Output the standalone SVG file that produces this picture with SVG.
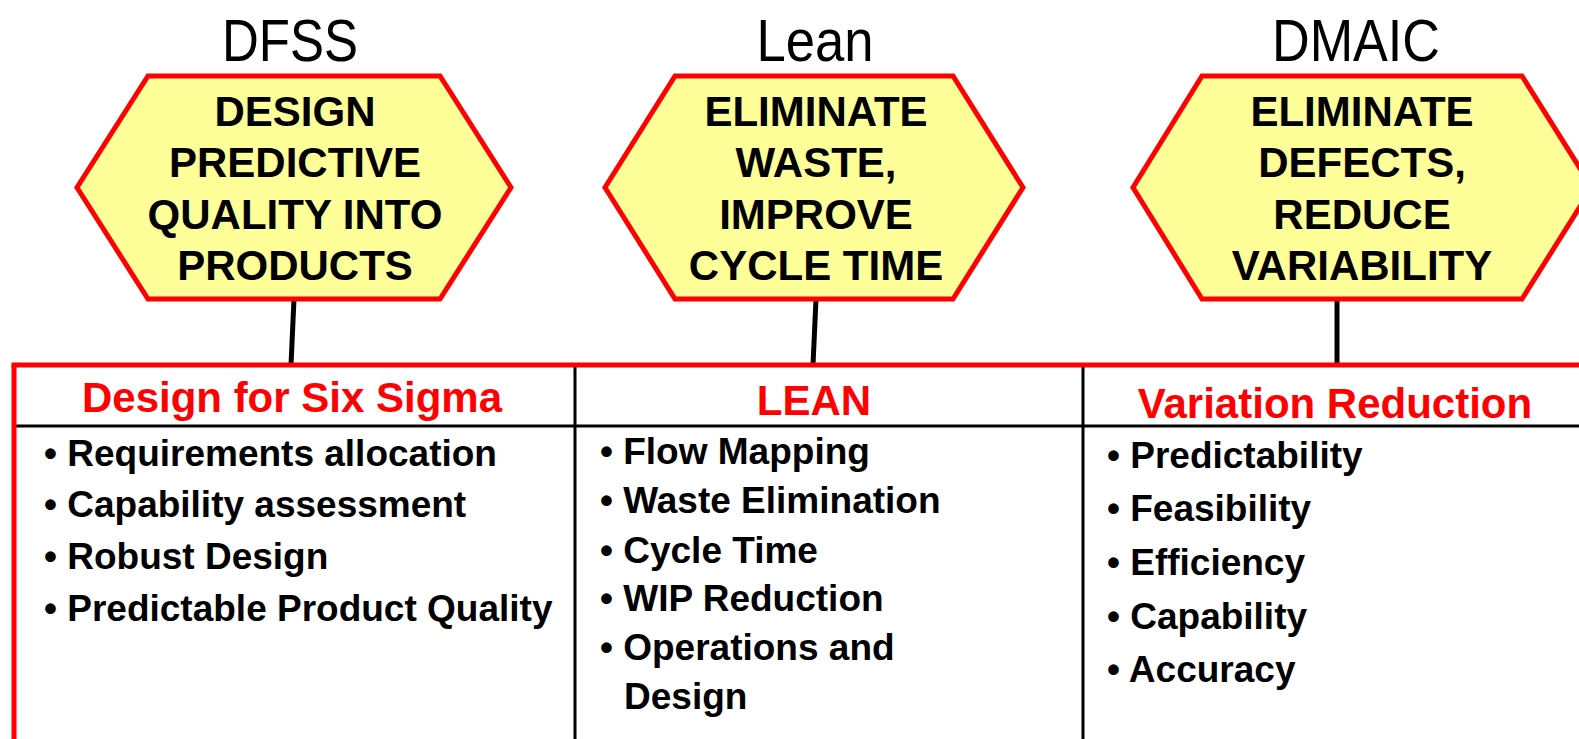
<svg xmlns="http://www.w3.org/2000/svg" width="1579" height="739" viewBox="0 0 1579 739">
<style>
.title{font-family:"Liberation Sans",Arial,sans-serif;font-size:59px;fill:#000;text-anchor:middle}
.hex{fill:#FFFF99;stroke:#FF0000;stroke-width:5;stroke-linejoin:miter}
.hext{font-family:"Liberation Sans",Arial,sans-serif;font-size:42px;font-weight:bold;fill:#000;text-anchor:middle}
.head{font-family:"Liberation Sans",Arial,sans-serif;font-size:42px;font-weight:bold;fill:#FF0000;text-anchor:middle}
.item{font-family:"Liberation Sans",Arial,sans-serif;font-size:37px;font-weight:bold;fill:#000}
.conn{stroke:#000;stroke-width:5;fill:none}
.red{stroke:#FF0000;stroke-width:5;fill:none}
.blk{stroke:#000;stroke-width:3;fill:none}
</style>
<rect width="1579" height="739" fill="#fff"/>
<g id="titles">
<text class="title" x="290" y="61" textLength="136" lengthAdjust="spacingAndGlyphs">DFSS</text>
<text class="title" x="815" y="61" textLength="117" lengthAdjust="spacingAndGlyphs">Lean</text>
<text class="title" x="1356" y="61" textLength="168" lengthAdjust="spacingAndGlyphs">DMAIC</text>
</g>
<g id="connectors">
<line class="conn" x1="294" y1="299" x2="291" y2="365"/>
<line class="conn" x1="816" y1="299" x2="813" y2="365"/>
<line class="conn" x1="1337" y1="299" x2="1337" y2="365"/>
</g>
<g id="hex-dfss">
<polygon class="hex" points="148,76 440,76 511,187.5 440,299 148,299 77,187.5"/>
<text class="hext" x="295" y="126">DESIGN</text>
<text class="hext" x="295" y="177">PREDICTIVE</text>
<text class="hext" x="295" y="229">QUALITY INTO</text>
<text class="hext" x="295" y="280">PRODUCTS</text>
</g>
<g id="hex-lean">
<polygon class="hex" points="675,76 953,76 1023,187.5 953,299 675,299 605,187.5"/>
<text class="hext" x="816" y="126">ELIMINATE</text>
<text class="hext" x="816" y="177">WASTE,</text>
<text class="hext" x="816" y="229">IMPROVE</text>
<text class="hext" x="816" y="280">CYCLE TIME</text>
</g>
<g id="hex-dmaic">
<polygon class="hex" points="1202,76 1522,76 1592,187.5 1522,299 1202,299 1133,187.5"/>
<text class="hext" x="1362" y="126">ELIMINATE</text>
<text class="hext" x="1362" y="177">DEFECTS,</text>
<text class="hext" x="1362" y="229">REDUCE</text>
<text class="hext" x="1362" y="280">VARIABILITY</text>
</g>
<g id="table">
<line class="blk" x1="575" y1="365" x2="575" y2="739"/>
<line class="blk" x1="1083" y1="365" x2="1083" y2="739"/>
<line class="blk" x1="14" y1="426" x2="1579" y2="426"/>
<line class="red" x1="11.5" y1="365" x2="1579" y2="365"/>
<line class="red" x1="14" y1="365" x2="14" y2="739"/>
</g>
<g id="col-dfss">
<text class="head" x="292" y="412">Design for Six Sigma</text>
<text class="item" x="44" y="466">• Requirements allocation</text>
<text class="item" x="44" y="517">• Capability assessment</text>
<text class="item" x="44" y="569">• Robust Design</text>
<text class="item" x="44" y="621">• Predictable Product Quality</text>
</g>
<g id="col-lean">
<text class="head" x="814" y="415">LEAN</text>
<text class="item" x="600" y="464">• Flow Mapping</text>
<text class="item" x="600" y="513">• Waste Elimination</text>
<text class="item" x="600" y="563">• Cycle Time</text>
<text class="item" x="600" y="611">• WIP Reduction</text>
<text class="item" x="600" y="660">• Operations and</text>
<text class="item" x="624" y="709">Design</text>
</g>
<g id="col-variation">
<text class="head" x="1335" y="418">Variation Reduction</text>
<text class="item" x="1107" y="468">• Predictability</text>
<text class="item" x="1107" y="521">• Feasibility</text>
<text class="item" x="1107" y="575">• Efficiency</text>
<text class="item" x="1107" y="629">• Capability</text>
<text class="item" x="1107" y="682">• Accuracy</text>
</g>
</svg>
